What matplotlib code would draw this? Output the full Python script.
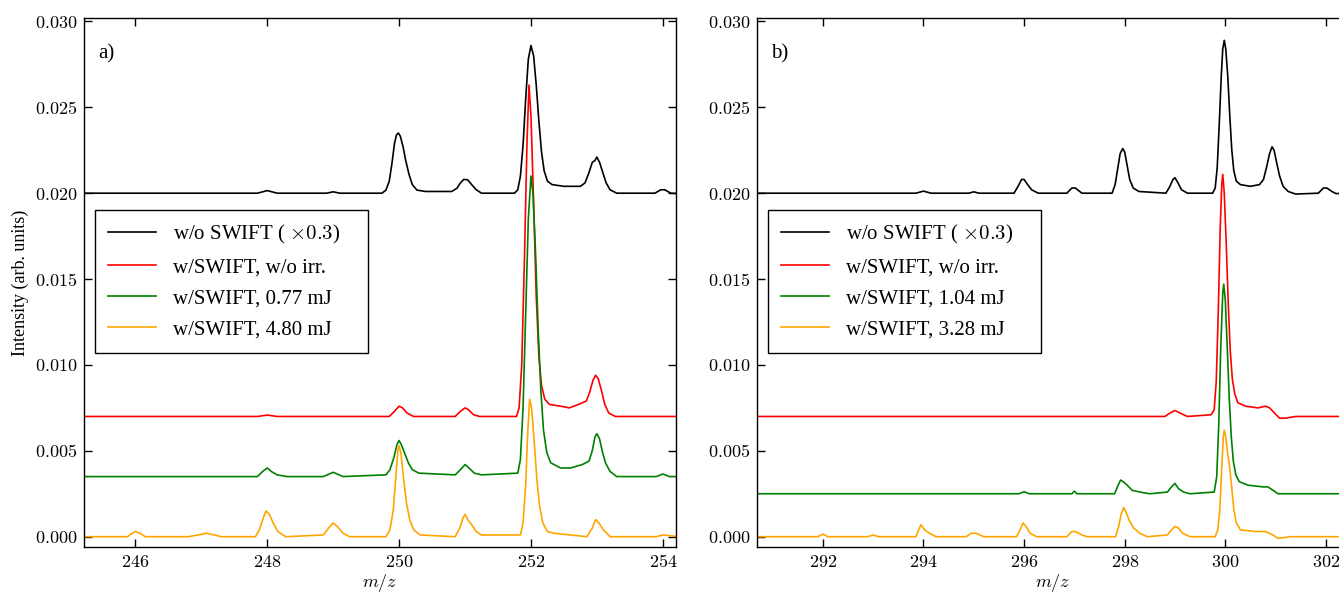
import matplotlib
matplotlib.use("Agg")
from matplotlib import pyplot as plt
from matplotlib import ticker

plt.rcParams['font.family'] = ['Liberation Serif', 'DejaVu Serif']
plt.rcParams['mathtext.fontset'] = 'cm'

# traced spectra, (m/z, intensity) pairs

# ---- panel a) ----
a_black = [
    (245.22, 0.0200), (247.85, 0.0200), (248.0, 0.02015), (248.15, 0.0200), (248.9, 0.0200), (249.0, 0.02008),
    (249.1, 0.0200), (249.74, 0.0200), (249.80, 0.02018), (249.85, 0.0207), (249.89, 0.0217), (249.93, 0.0229),
    (249.96, 0.0234), (249.99, 0.0235), (250.02, 0.0233), (250.06, 0.0227), (250.10, 0.0219), (250.15, 0.0211),
    (250.20, 0.0205), (250.27, 0.02018), (250.40, 0.0201), (250.80, 0.0201), (250.88, 0.0203), (250.93, 0.0206),
    (250.98, 0.0208), (251.04, 0.02078), (251.10, 0.0205), (251.17, 0.0202), (251.25, 0.0200), (251.75, 0.0200),
    (251.80, 0.0202), (251.84, 0.0210), (251.88, 0.0228), (251.92, 0.0255), (251.96, 0.0278), (252.00, 0.0286),
    (252.04, 0.0280), (252.08, 0.0263), (252.12, 0.0242), (252.16, 0.0224), (252.20, 0.0213), (252.25, 0.0207),
    (252.32, 0.0205), (252.50, 0.0204), (252.75, 0.0204), (252.82, 0.0206), (252.88, 0.0212), (252.93, 0.0218),
    (252.97, 0.0219), (253.00, 0.0221), (253.04, 0.0218), (253.09, 0.0212), (253.14, 0.0206), (253.20, 0.0202),
    (253.30, 0.0200), (253.88, 0.0200), (253.97, 0.0202), (254.03, 0.0202), (254.12, 0.0200), (254.25, 0.01998),
]
a_red = [
    (245.22, 0.0070), (247.85, 0.0070), (248.0, 0.00708), (248.15, 0.0070), (249.85, 0.0070), (249.93, 0.0073),
    (250.0, 0.0076), (250.05, 0.0075), (250.12, 0.0072), (250.22, 0.0070), (250.85, 0.0070), (250.93, 0.0073),
    (251.0, 0.0075), (251.05, 0.0074), (251.13, 0.0071), (251.22, 0.0070), (251.78, 0.0070), (251.82, 0.0075),
    (251.86, 0.0100), (251.90, 0.0160), (251.94, 0.0230), (251.97, 0.0263), (252.00, 0.0245), (252.04, 0.0195),
    (252.08, 0.0140), (252.12, 0.0105), (252.16, 0.0088), (252.21, 0.0080), (252.28, 0.0077), (252.45, 0.0076),
    (252.58, 0.0075), (252.72, 0.0077), (252.84, 0.0079), (252.89, 0.0084), (252.94, 0.0091), (252.98, 0.0094),
    (253.02, 0.0092), (253.07, 0.0085), (253.12, 0.0077), (253.18, 0.0072), (253.28, 0.0070), (254.25, 0.0070),
]
a_green = [
    (245.22, 0.0035), (247.85, 0.0035), (247.93, 0.0038), (248.0, 0.0040), (248.06, 0.0038), (248.15, 0.0036),
    (248.3, 0.0035), (248.85, 0.0035), (249.0, 0.00375), (249.15, 0.0035), (249.80, 0.0036), (249.86, 0.0039),
    (249.92, 0.0046), (249.97, 0.0054), (250.00, 0.0056), (250.04, 0.0053), (250.09, 0.0048), (250.14, 0.0043),
    (250.20, 0.0039), (250.30, 0.0037), (250.85, 0.0036), (250.93, 0.0039), (251.0, 0.0042), (251.06, 0.0040),
    (251.14, 0.0037), (251.25, 0.0036), (251.80, 0.0037), (251.84, 0.0045), (251.88, 0.0075), (251.92, 0.0130),
    (251.96, 0.0185), (252.00, 0.0210), (252.03, 0.0200), (252.07, 0.0165), (252.11, 0.0120), (252.15, 0.0085),
    (252.19, 0.0062), (252.24, 0.0049), (252.30, 0.0043), (252.45, 0.0040), (252.60, 0.0040), (252.78, 0.0042),
    (252.88, 0.0044), (252.93, 0.0050), (252.97, 0.0058), (253.00, 0.0060), (253.04, 0.0057), (253.08, 0.0050),
    (253.13, 0.0043), (253.20, 0.0038), (253.30, 0.0035), (253.9, 0.0035), (254.0, 0.00365), (254.1, 0.0035),
    (254.25, 0.0035),
]
a_orange = [
    (245.22, 0.0000), (245.88, 0.0000), (245.95, 0.0002), (246.0, 0.0003), (246.07, 0.0002), (246.15, 0.0000),
    (246.8, 0.0000), (246.95, 0.0001), (247.08, 0.0002), (247.2, 0.0001), (247.3, 0.0000), (247.82, 0.0000),
    (247.88, 0.0004), (247.94, 0.0011), (247.98, 0.0015), (248.03, 0.0013), (248.09, 0.0008), (248.16, 0.0003),
    (248.28, 0.0000), (248.85, 0.0001), (248.93, 0.0005), (249.0, 0.0008), (249.06, 0.0006), (249.15, 0.0002),
    (249.25, 0.0000), (249.80, 0.0000), (249.86, 0.0004), (249.91, 0.0015), (249.95, 0.0035), (249.98, 0.0050),
    (250.00, 0.0053), (250.03, 0.0048), (250.07, 0.0033), (250.11, 0.0020), (250.16, 0.0010), (250.22, 0.0004),
    (250.32, 0.0001), (250.85, 0.0000), (250.92, 0.0005), (250.97, 0.0011), (251.0, 0.0013), (251.04, 0.0010),
    (251.1, 0.0007), (251.17, 0.0003), (251.25, 0.0001), (251.84, 0.0001), (251.88, 0.0008), (251.92, 0.0030),
    (251.95, 0.0060), (251.98, 0.0080), (252.01, 0.0075), (252.05, 0.0055), (252.09, 0.0033), (252.13, 0.0018),
    (252.18, 0.0008), (252.25, 0.0003), (252.35, 0.0002), (252.85, 0.0000), (252.93, 0.0005), (252.98, 0.0010),
    (253.03, 0.0008), (253.1, 0.0004), (253.2, 0.0000), (253.9, 0.0000), (254.0, 0.0001), (254.25, 0.0000),
]

# ---- panel b) ----
b_black = [
    (290.69, 0.0200), (293.85, 0.0200), (294.0, 0.02012), (294.15, 0.0200), (294.9, 0.0200), (295.0, 0.02008),
    (295.1, 0.0200), (295.80, 0.0200), (295.88, 0.0204), (295.95, 0.0208), (296.0, 0.0208), (296.07, 0.0205),
    (296.15, 0.0202), (296.28, 0.0200), (296.85, 0.0200), (296.95, 0.0203), (297.02, 0.0203), (297.15, 0.0200),
    (297.75, 0.0200), (297.81, 0.0205), (297.86, 0.0214), (297.91, 0.0223), (297.96, 0.0226), (298.00, 0.0224),
    (298.05, 0.0216), (298.10, 0.0208), (298.17, 0.0203), (298.28, 0.0201), (298.82, 0.0200), (298.9, 0.0204),
    (298.96, 0.0208), (299.0, 0.0209), (299.06, 0.0206), (299.13, 0.0202), (299.25, 0.0200), (299.75, 0.0200),
    (299.80, 0.0203), (299.84, 0.0215), (299.88, 0.0240), (299.92, 0.0268), (299.95, 0.0284), (299.98, 0.0289),
    (300.01, 0.0284), (300.05, 0.0268), (300.09, 0.0245), (300.13, 0.0225), (300.17, 0.0213), (300.22, 0.0207),
    (300.30, 0.0205), (300.50, 0.0204), (300.68, 0.0205), (300.76, 0.0208), (300.82, 0.0215), (300.88, 0.0223),
    (300.93, 0.0227), (300.97, 0.0225), (301.02, 0.0218), (301.08, 0.0210), (301.15, 0.0204), (301.25, 0.0201),
    (301.40, 0.01995), (301.85, 0.0200), (301.95, 0.0203), (302.02, 0.0203), (302.12, 0.0201), (302.2, 0.01998),
    (302.46, 0.01998),
]
b_red = [
    (290.69, 0.0070), (298.8, 0.0070), (298.9, 0.0072), (299.0, 0.00735), (299.1, 0.0072), (299.25, 0.0070),
    (299.72, 0.0071), (299.78, 0.0074), (299.82, 0.0090), (299.86, 0.0130), (299.90, 0.0180), (299.93, 0.0205),
    (299.95, 0.0211), (299.98, 0.0200), (300.02, 0.0170), (300.06, 0.0135), (300.10, 0.0108), (300.14, 0.0092),
    (300.19, 0.0083), (300.25, 0.0078), (300.40, 0.0076), (300.65, 0.0075), (300.80, 0.0076), (300.88, 0.0075),
    (300.98, 0.0072), (301.08, 0.0069), (301.2, 0.0069), (301.4, 0.0070), (302.46, 0.0070),
]
b_green = [
    (290.69, 0.0025), (295.9, 0.0025), (296.0, 0.00262), (296.1, 0.0025), (296.95, 0.0025), (297.0, 0.00265),
    (297.05, 0.0025), (297.8, 0.0025), (297.87, 0.0030), (297.92, 0.0033), (297.97, 0.0032), (298.05, 0.0030),
    (298.15, 0.0027), (298.3, 0.0026), (298.5, 0.0025), (298.85, 0.0026), (298.93, 0.0029), (299.0, 0.0031),
    (299.07, 0.0028), (299.17, 0.0026), (299.3, 0.0025), (299.78, 0.0026), (299.83, 0.0035), (299.87, 0.0065),
    (299.91, 0.0110), (299.95, 0.0142), (299.97, 0.0147), (300.00, 0.0138), (300.04, 0.0110), (300.08, 0.0080),
    (300.12, 0.0058), (300.16, 0.0044), (300.21, 0.0036), (300.28, 0.0032), (300.45, 0.0030), (300.75, 0.0029),
    (300.85, 0.0029), (300.95, 0.0027), (301.05, 0.0025), (302.46, 0.0025),
]
b_orange = [
    (290.69, 0.0000), (291.9, 0.0000), (292.0, 0.00015), (292.1, 0.0000), (292.9, 0.0000), (293.0, 0.0001),
    (293.1, 0.0000), (293.85, 0.0000), (293.92, 0.0005), (293.95, 0.0007), (294.02, 0.0004), (294.12, 0.0002),
    (294.25, 0.0000), (294.85, 0.0000), (294.95, 0.0002), (295.05, 0.0002), (295.2, 0.0000), (295.85, 0.0000),
    (295.92, 0.0004), (295.98, 0.0008), (296.04, 0.0006), (296.12, 0.0002), (296.25, 0.0000), (296.85, 0.0000),
    (296.95, 0.0003), (297.02, 0.0003), (297.15, 0.0001), (297.25, 0.0000), (297.82, 0.0000), (297.88, 0.0006),
    (297.93, 0.0013), (297.98, 0.0017), (298.03, 0.0014), (298.1, 0.0009), (298.18, 0.0005), (298.3, 0.0002),
    (298.45, 0.0000), (298.85, 0.0001), (298.93, 0.0004), (299.0, 0.0006), (299.07, 0.0005), (299.15, 0.0002),
    (299.3, 0.0000), (299.80, 0.0000), (299.85, 0.0004), (299.89, 0.0015), (299.93, 0.0040), (299.96, 0.0058),
    (299.98, 0.0062), (300.01, 0.0058), (300.05, 0.0048), (300.09, 0.0040), (300.13, 0.0028), (300.17, 0.0016),
    (300.22, 0.0008), (300.30, 0.0004), (300.60, 0.0003), (300.80, 0.0003), (300.95, 0.0001), (301.05, -0.0001),
    (301.3, 0.0000), (302.46, 0.0000),
]

labels_a = [r'w/o SWIFT ( $\times 0.3$)', 'w/SWIFT, w/o irr.', 'w/SWIFT, 0.77 mJ', 'w/SWIFT, 4.80 mJ']
labels_b = [r'w/o SWIFT ( $\times 0.3$)', 'w/SWIFT, w/o irr.', 'w/SWIFT, 1.04 mJ', 'w/SWIFT, 3.28 mJ']
colours = ['black', 'red', 'green', 'orange']
y_ticks = [0.0, 0.005, 0.010, 0.015, 0.020, 0.025, 0.030]

fig = plt.figure(figsize=(13.39, 5.95), dpi=100)
ax_a = fig.add_axes([84 / 1339, 48 / 595, 592 / 1339, 529 / 595])
ax_b = fig.add_axes([757 / 1339, 48 / 595, 592 / 1339, 529 / 595])

panels = [
    (ax_a, [a_black, a_red, a_green, a_orange], labels_a, 'a)', (245.22, 254.2), [246, 248, 250, 252, 254]),
    (ax_b, [b_black, b_red, b_green, b_orange], labels_b, 'b)', (290.69, 302.46), [292, 294, 296, 298, 300, 302]),
]

for ax, series, labels, tag, xlim, xt in panels:
    for pts, c, lab in zip(series, colours, labels):
        x = [p[0] for p in pts]
        y = [p[1] for p in pts]
        ax.plot(x, y, color=c, lw=1.2, label=lab)
    ax.set_xlim(*xlim)
    ax.set_ylim(-0.0006, 0.0302)
    ax.set_xticks(xt)
    ax.set_yticks(y_ticks)
    ax.xaxis.set_major_formatter(ticker.FuncFormatter(lambda v, p: r'$%d$' % round(v)))
    ax.yaxis.set_major_formatter(ticker.FuncFormatter(lambda v, p: r'$%.3f$' % v))
    ax.tick_params(direction='in', top=True, right=True, length=6, width=1, labelsize=13, pad=5)
    for s in ax.spines.values():
        s.set_linewidth(1.0)
    ax.set_xlabel(r'$m/z$', fontsize=13, labelpad=1)
    ax.text(0.024, 0.95, tag, transform=ax.transAxes, fontsize=15, va='top', ha='left')
    # legend box stretched to the width it has in the figure
    leg = ax.legend(loc='upper left', bbox_to_anchor=(0.0186, 0.0, 0.461, 0.637), mode='expand',
                    borderaxespad=0, fancybox=False, edgecolor='black', framealpha=1, fontsize=15,
                    handlelength=2.3, handletextpad=0.8, labelspacing=0.56, borderpad=0.62)
    leg.get_frame().set_linewidth(1.0)

ax_a.set_ylabel('Intensity (arb. units)', fontsize=13)

fig.savefig('out.png', dpi=100)
